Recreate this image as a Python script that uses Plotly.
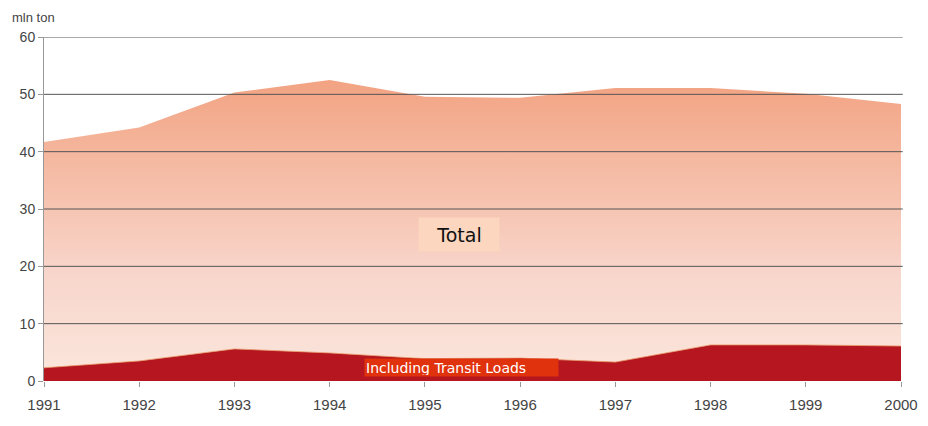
import plotly.graph_objects as go

years = [1991, 1992, 1993, 1994, 1995, 1996, 1997, 1998, 1999, 2000]
total = [41.7, 44.2, 50.3, 52.5, 49.6, 49.4, 51.1, 51.1, 50.1, 48.3]
transit = [2.3, 3.5, 5.6, 4.9, 3.9, 4.0, 3.3, 6.3, 6.3, 6.1]
y_ticks = [0, 10, 20, 30, 40, 50, 60]

fig = go.Figure()
fig.add_trace(go.Scatter(
    x=years, y=total, mode="lines", line=dict(width=0, color="#F2A27E"),
    fill="tozeroy",
    fillgradient=dict(type="vertical",
                      colorscale=[[0, "#FBE6DC"], [0.35, "#F8D6CC"], [0.7, "#F5BBA4"], [1, "#F2A382"]]),
    hoverinfo="skip", showlegend=False))
fig.add_trace(go.Scatter(
    x=years, y=transit, mode="lines", line=dict(width=0.8, color="#E8A070"),
    fill="tozeroy", fillcolor="#B5161F", hoverinfo="skip", showlegend=False))

for v in y_ticks[1:]:
    fig.add_shape(type="line", xref="paper", yref="y", x0=0, x1=1.002, y0=v, y1=v,
                  line=dict(color="#555555", width=1), layer="above")

fig.add_annotation(x=1995.36, y=25.5, text="Total", showarrow=False,
                   font=dict(family="DejaVu Sans", size=19, color="#111"),
                   bgcolor="#FCD6BE", borderpad=4, width=72, height=25)
fig.add_annotation(x=1995.38, y=2.3, text="Including Transit Loads", showarrow=False,
                   font=dict(family="DejaVu Sans", size=14, color="#FFFFFF"),
                   bgcolor="#E0320C", borderpad=1, width=191, height=15, align="left")
fig.add_annotation(xref="paper", yref="paper", x=-0.04, y=1.03, xanchor="left", yanchor="bottom",
                   text="mln ton", showarrow=False,
                   font=dict(family="Arial, Liberation Sans", size=13, color="#444"))

fig.update_layout(
    width=928, height=426, paper_bgcolor="white", plot_bgcolor="white",
    margin=dict(l=33, r=35, t=29, b=53),
    xaxis=dict(range=[1991, 2000], tickvals=years, ticktext=[str(y) for y in years],
               showgrid=False, zeroline=False, ticks="outside", ticklen=5, tickcolor="#999",
               ticklabelstandoff=5,
               tickfont=dict(family="Arial, Liberation Sans", size=15, color="#444"), showline=False),
    yaxis=dict(range=[0, 60], tickvals=y_ticks, showgrid=False,
               zeroline=False, showline=True, linecolor="#999", ticks="outside", ticklen=5,
               tickcolor="#999", tickfont=dict(family="Arial, Liberation Sans", size=14, color="#444")),
)
fig.write_html("out.html")
